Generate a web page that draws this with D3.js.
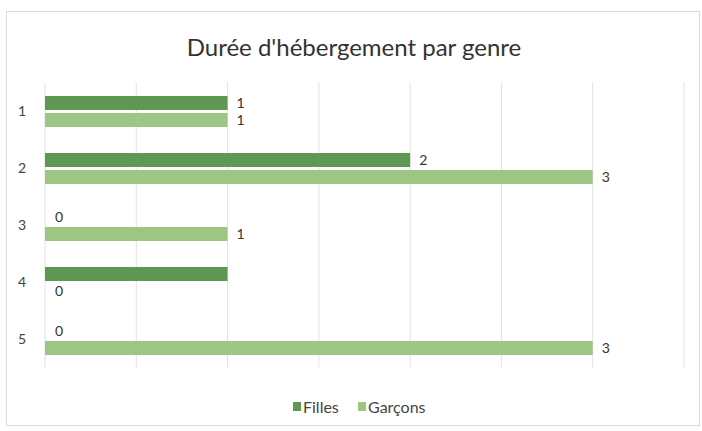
<!DOCTYPE html>
<html><head><meta charset="utf-8">
<script src="https://cdn.jsdelivr.net/npm/d3@7"></script>
<style>body{margin:0;background:#fff}svg{display:block}</style>
</head><body>
<svg id="c" width="702" height="431"></svg>
<script>
const title = "Durée d'hébergement par genre";
const categories = ["1","2","3","4","5"];
const seriesNames = ["Filles","Garçons"];
const filles = [1,2,0,1,0];
const garcons = [1,3,1,0,3];
// data labels as printed in the reference (cat 4 "Filles" label absent)
const fillesLabels = ["1","2","0",null,"0"];
const garconsLabels = ["1","3","1","0","3"];
const xTicks = [0,0.5,1,1.5,2,2.5,3,3.5];
const colors = ["#5f9853","#9dc583"];

const font = "Lato, 'Open Sans', sans-serif";
const svg = d3.select("#c");
svg.append("rect").attr("x",6.5).attr("y",11.5).attr("width",693).attr("height",414)
  .attr("fill","#fff").attr("stroke","#dcdcdc");

const x = d3.scaleLinear().domain([0,3.5]).range([45,684]);
const y = d3.scaleBand().domain(categories).range([82.5,367.5]);
const inner = d3.scaleBand().domain(seriesNames).range([13.5,44.5]).paddingInner(3/17);

svg.append("g").selectAll("line").data(xTicks).join("line")
  .attr("x1",d=>x(d)).attr("x2",d=>x(d)).attr("y1",82.5).attr("y2",367.5)
  .attr("stroke","#e2e2e2").attr("stroke-width",1);

svg.append("text").attr("x",354).attr("y",56).attr("text-anchor","middle")
  .attr("font-family",font).attr("font-size",24).attr("fill","#333").text(title);

const data = categories.map((c,i)=>({c, vals:[filles[i],garcons[i]], labs:[fillesLabels[i],garconsLabels[i]]}));
const g = svg.append("g").selectAll("g").data(data).join("g")
  .attr("transform",d=>`translate(0,${y(d.c)})`);
g.selectAll("rect").data(d=>d.vals.map((v,j)=>({v,s:seriesNames[j],j}))).join("rect")
  .attr("x",x(0)).attr("y",d=>inner(d.s)).attr("height",inner.bandwidth())
  .attr("width",d=>x(d.v)-x(0)).attr("fill",d=>colors[d.j]);
g.selectAll("text").data(d=>d.vals.map((v,j)=>({v,l:d.labs[j],s:seriesNames[j],j})).filter(e=>e.l!==null)).join("text")
  .attr("x",d=>x(d.v)+(d.v===0?10:9)).attr("y",d=>inner(d.s)+inner.bandwidth()/2+5)
  .attr("font-family",font).attr("font-size",14).attr("fill","#333").text(d=>d.l);

svg.append("g").selectAll("text").data(categories).join("text")
  .attr("x",22).attr("y",d=>y(d)+y.bandwidth()/2+5).attr("text-anchor","middle")
  .attr("font-family",font).attr("font-size",14).attr("fill","#444").text(d=>d);

const leg = svg.append("g").selectAll("g").data(seriesNames).join("g")
  .attr("transform",(d,i)=>`translate(${[293,358][i]},0)`);
leg.append("rect").attr("x",0).attr("y",402).attr("width",8).attr("height",9).attr("fill",(d,i)=>colors[i]);
leg.append("text").attr("x",10).attr("y",413).attr("font-family",font).attr("font-size",16)
  .attr("fill","#444").text(d=>d);
</script>
</body></html>
